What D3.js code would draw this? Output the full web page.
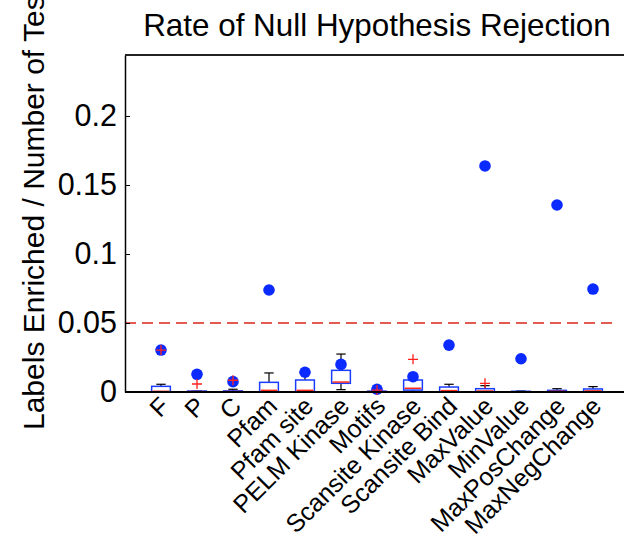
<!DOCTYPE html>
<html><head><meta charset="utf-8">
<script src="https://cdn.jsdelivr.net/npm/d3@7"></script>
<style>
html,body{margin:0;padding:0;background:#fff;}
svg{display:block;font-family:"Liberation Sans",Arial,Helvetica,sans-serif;}
</style></head><body>
<div id="chart"></div>
<script>
const categories = ["F","P","C","Pfam","Pfam site","PELM Kinase","Motifs","Scansite Kinase","Scansite Bind","MaxValue","MinValue","MaxPosChange","MaxNegChange"];
const q1 =        [0, 0, 0, 0, 0, 0.0063, 0, 0.0014, 0, 0, 0, 0, 0];
const medians =   [0.0005, 0.0003, 0.0003, 0.0012, 0.0012, 0.0072, 0.0003, 0.0027, 0.001, 0.0007, 0.0002, 0.0005, 0.0008];
const q3 =        [0.0041, 0.0007, 0.0008, 0.007, 0.0087, 0.0157, 0.0006, 0.0087, 0.0036, 0.0024, 0.0005, 0.0012, 0.0022];
const whiskerLo = [0, 0, 0, 0, 0, 0.0017, 0, 0, 0, 0, 0, 0, 0];
const whiskerHi = [0.0056, 0.0007, 0.002, 0.0138, 0.013, 0.0275, 0.0006, 0.0087, 0.0056, 0.0046, 0.0007, 0.0024, 0.0039];
const outliers =  [[0.0304],[0.0058],[0.0085],[],[],[],[0.0014],[0.0237],[],[0.0063],[],[],[]];
const observed =  [0.0304, 0.0128, 0.0075, 0.0739, 0.0143, 0.02, 0.002, 0.0111, 0.034, 0.1638, 0.0241, 0.1355, 0.0746];
const yTicks = [0, 0.05, 0.1, 0.15, 0.2];
const yTickLabels = ["0", "0.05", "0.1", "0.15", "0.2"];
const threshold = 0.05;

const W = 624, H = 539;
const svg = d3.select("#chart").append("svg").attr("width", W).attr("height", H);

const x = d3.scaleLinear().domain([0, 14]).range([125, 629]);
const y = d3.scaleLinear().domain([0, 0.2442]).range([392, 55]);
const boxW = x(0.52) - x(0);
const capW = boxW / 2;

// title
svg.append("text").attr("x", 377).attr("y", 36).attr("text-anchor", "middle")
  .attr("font-size", 31.4).attr("fill", "#000").text("Rate of Null Hypothesis Rejection");

// y label
svg.append("text").attr("transform", `translate(44,201) rotate(-90)`)
  .attr("text-anchor", "middle").attr("font-size", 30).attr("fill", "#000")
  .text("Labels Enriched / Number of Tests");

// threshold dashed line
svg.append("line").attr("x1", x(0)).attr("x2", 616).attr("y1", y(threshold)).attr("y2", y(threshold))
  .attr("stroke", "#dc2418").attr("stroke-width", 1.4).attr("stroke-dasharray", "11,6");

// y axis
const yAxis = d3.axisLeft(y).tickValues(yTicks).tickFormat((d, i) => yTickLabels[i]).tickSizeInner(-5).tickSizeOuter(0).tickPadding(8);
const gy = svg.append("g").attr("transform", `translate(${x(0)},0)`).call(yAxis);
gy.select(".domain").attr("stroke", "#000").attr("stroke-width", 1.5);
gy.selectAll(".tick line").attr("stroke", "#000");
gy.selectAll(".tick text").attr("font-size", 30.5).attr("fill", "#000").attr("font-family", "\"Liberation Sans\",Arial,sans-serif");

// top border
svg.append("line").attr("x1", x(0)).attr("x2", W).attr("y1", y.range()[1]).attr("y2", y.range()[1])
  .attr("stroke", "#222").attr("stroke-width", 1.8);

const idx = d3.range(categories.length);
const g = svg.append("g");

// whiskers
idx.forEach(i => {
  const cx = x(i + 1);
  if (whiskerHi[i] > q3[i]) {
    g.append("line").attr("x1", cx).attr("x2", cx).attr("y1", y(q3[i])).attr("y2", y(whiskerHi[i])).attr("stroke", "#000").attr("stroke-width", 1.2);
  }
  g.append("line").attr("x1", cx - capW / 2).attr("x2", cx + capW / 2).attr("y1", y(whiskerHi[i])).attr("y2", y(whiskerHi[i])).attr("stroke", "#000").attr("stroke-width", 1.2);
  if (whiskerLo[i] < q1[i]) {
    g.append("line").attr("x1", cx).attr("x2", cx).attr("y1", y(q1[i])).attr("y2", y(whiskerLo[i])).attr("stroke", "#000").attr("stroke-width", 1.2);
    g.append("line").attr("x1", cx - capW / 2).attr("x2", cx + capW / 2).attr("y1", y(whiskerLo[i])).attr("y2", y(whiskerLo[i])).attr("stroke", "#000").attr("stroke-width", 1.2);
  }
});

// boxes
g.selectAll("rect.box").data(idx).join("rect").attr("class", "box")
  .attr("x", i => x(i + 1) - boxW / 2).attr("width", boxW)
  .attr("y", i => y(q3[i])).attr("height", i => Math.max(0.8, y(q1[i]) - y(q3[i])))
  .attr("fill", "none").attr("stroke", "#1a3cff").attr("stroke-width", 1.5);

// medians
g.selectAll("line.med").data(idx).join("line").attr("class", "med")
  .attr("x1", i => x(i + 1) - boxW / 2 + 1).attr("x2", i => x(i + 1) + boxW / 2 - 1)
  .attr("y1", i => y(medians[i])).attr("y2", i => y(medians[i]))
  .attr("stroke", "#ff2a1a").attr("stroke-width", 1.5);

// x axis line
svg.append("line").attr("x1", x(0)).attr("x2", W).attr("y1", y(0)).attr("y2", y(0))
  .attr("stroke", "#000").attr("stroke-width", 2.2);

// observed values
g.selectAll("circle.obs").data(idx).join("circle").attr("class", "obs")
  .attr("cx", i => x(i + 1)).attr("cy", i => y(observed[i])).attr("r", 5.8)
  .attr("fill", "#0a2aff");

// outliers (red +)
const outPts = [];
outliers.forEach((arr, i) => arr.forEach(v => outPts.push({i, v})));
const ps = 5;
g.selectAll("path.out").data(outPts).join("path").attr("class", "out")
  .attr("d", d => {
    const cx = x(d.i + 1), cy = y(d.v);
    return `M${cx - ps},${cy}H${cx + ps}M${cx},${cy - ps}V${cy + ps}`;
  })
  .attr("stroke", "#ff2020").attr("stroke-width", 1.3).attr("fill", "none");

// x labels, rotated
svg.append("g").selectAll("text.xl").data(idx).join("text").attr("class", "xl")
  .attr("transform", i => `translate(${x(i + 1) - 3},${y(0) + 3}) rotate(-45)`)
  .attr("text-anchor", "end").attr("dy", "0.72em").attr("font-size", 25).attr("fill", "#000")
  .text(i => categories[i]);
</script>
</body></html>
